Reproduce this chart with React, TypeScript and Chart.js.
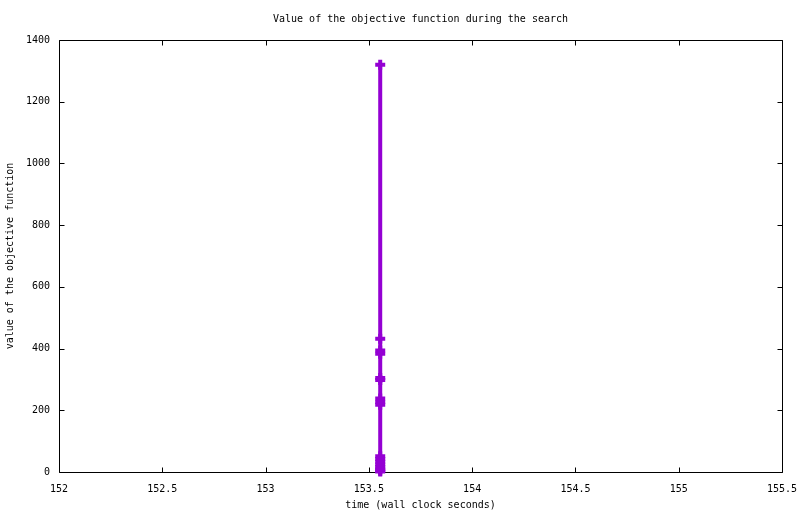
import React, { useEffect, useRef } from "react";
import { Chart, registerables } from "chart.js";

Chart.register(...registerables);

const TITLE = "Value of the objective function during the search";
const X_TITLE = "time (wall clock seconds)";
const Y_TITLE = "value of the objective function";

const xRange = [152, 155.5];
const xStep = 0.5;
const yRange = [0, 1400];
const yStep = 200;

// wall clock time (s) of each evaluation and its objective value
const times = [
  153.555, 153.555, 153.555, 153.555, 153.555, 153.555, 153.555, 153.555,
  153.555, 153.555, 153.555, 153.555, 153.555, 153.555, 153.555, 153.555,
  153.555,
];
const values = [
  1320, 432, 394, 383, 305, 298, 238, 227, 218, 51, 42, 33, 24, 16, 9, 4, 2,
];

const FONT = "'DejaVu Sans Mono', 'Liberation Mono', monospace";
const PURPLE = "#9400d3";

const framePlugin = {
  id: "gnuplotFrame",
  beforeDatasetsDraw(chart: any) {
    const { ctx, chartArea, scales } = chart;
    const { left, right, top, bottom } = chartArea;
    ctx.save();
    ctx.strokeStyle = "#000";
    ctx.lineWidth = 1;
    ctx.beginPath();
    ctx.rect(left + 0.5, top + 0.5, right - left, bottom - top);
    ctx.stroke();
    const tl = 5;
    ctx.beginPath();
    for (const t of scales.x.ticks) {
      const px = Math.round(scales.x.getPixelForValue(t.value)) + 0.5;
      ctx.moveTo(px, bottom + 0.5);
      ctx.lineTo(px, bottom + 0.5 - tl);
      ctx.moveTo(px, top + 0.5);
      ctx.lineTo(px, top + 0.5 + tl);
    }
    for (const t of scales.y.ticks) {
      const py = Math.round(scales.y.getPixelForValue(t.value)) + 0.5;
      ctx.moveTo(left + 0.5, py);
      ctx.lineTo(left + 0.5 + tl, py);
      ctx.moveTo(right + 0.5, py);
      ctx.lineTo(right + 0.5 - tl, py);
    }
    ctx.stroke();
    ctx.restore();
  },
  afterDraw(chart: any) {
    const { ctx, chartArea } = chart;
    const { left, right, top, bottom } = chartArea;
    const cx = (left + right) / 2;
    const cy = (top + bottom) / 2;
    ctx.save();
    ctx.fillStyle = "#000";
    ctx.font = `10px ${FONT}`;
    ctx.textAlign = "center";
    ctx.textBaseline = "middle";
    ctx.fillText(TITLE, cx, 19);
    ctx.fillText(X_TITLE, cx, 505);
    ctx.translate(10, cy);
    ctx.rotate(-Math.PI / 2);
    ctx.fillText(Y_TITLE, 0, 0);
    ctx.restore();
  },
};

export default function App() {
  const ref = useRef<HTMLCanvasElement | null>(null);

  useEffect(() => {
    if (!ref.current) return;
    const data = times.map((t, i) => ({ x: t, y: values[i] }));
    const chart = new Chart(ref.current, {
      type: "scatter",
      data: {
        datasets: [
          {
            data,
            showLine: true,
            borderColor: PURPLE,
            backgroundColor: PURPLE,
            borderWidth: 4,
            pointStyle: "cross",
            pointRadius: 5,
            pointBorderWidth: 4,
            pointBorderColor: PURPLE,
            pointHoverRadius: 5,
            clip: false as any,
          } as any,
        ],
      },
      options: {
        animation: false,
        responsive: false,
        devicePixelRatio: 1,
        events: [],
        layout: { padding: { top: 40, right: 18, left: 0, bottom: 0 } },
        plugins: {
          legend: { display: false },
          tooltip: { enabled: false },
          title: { display: false },
        },
        scales: {
          x: {
            type: "linear",
            min: xRange[0],
            max: xRange[1],
            grid: { display: false, drawTicks: false },
            border: { display: false },
            ticks: {
              stepSize: xStep,
              color: "#000",
              font: { family: FONT, size: 10 },
              padding: 11,
              maxRotation: 0,
              autoSkip: false,
              callback: (v: any) => String(v),
            },
            afterFit: (s: any) => {
              s.height = 42;
              s.paddingLeft = 0;
              s.paddingRight = 0;
            },
          },
          y: {
            type: "linear",
            min: yRange[0],
            max: yRange[1],
            grid: { display: false, drawTicks: false },
            border: { display: false },
            ticks: {
              stepSize: yStep,
              color: "#000",
              font: { family: FONT, size: 10 },
              padding: 9,
              autoSkip: false,
              callback: (v: any) => String(v),
            },
            afterFit: (s: any) => {
              s.width = 59;
              s.paddingTop = 0;
              s.paddingBottom = 0;
            },
          },
        },
      },
      plugins: [framePlugin],
    });
    return () => chart.destroy();
  }, []);

  return (
    <div
      style={{
        position: "fixed",
        left: 0,
        top: 0,
        width: 800,
        height: 514,
        background: "#fff",
      }}
    >
      <canvas ref={ref} width={800} height={514} style={{ display: "block" }} />
    </div>
  );
}
